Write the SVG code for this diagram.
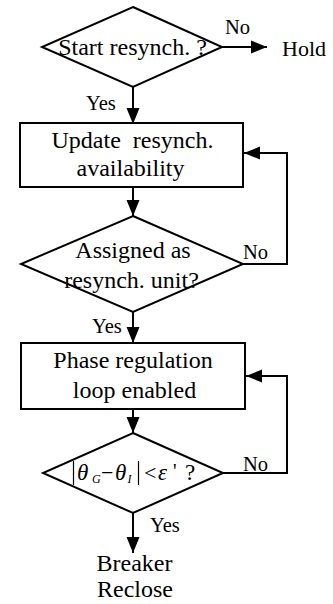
<svg xmlns="http://www.w3.org/2000/svg" width="333" height="604" viewBox="0 0 333 604">
<style>
.s{fill:none;stroke:#000;stroke-width:2}
.l{fill:none;stroke:#000;stroke-width:2}
text{font-family:"Liberation Serif","Times New Roman",serif;font-size:24px;fill:#000}
.lb{font-size:20.5px}
.m{text-anchor:middle}
.i{font-style:italic}
.sub{font-style:italic;font-size:12px}
</style>
<defs>
<marker id="a" markerUnits="userSpaceOnUse" markerWidth="18" markerHeight="18" refX="16" refY="8" orient="auto">
<path d="M0,1.5 L16,8 L0,14.5 Z" fill="#000"/>
</marker>
</defs>
<g id="connectors">
<path class="l" d="M222,47 H267" marker-end="url(#a)"/>
<path class="l" d="M133,87 V124" marker-end="url(#a)"/>
<path class="l" d="M133,187 V216" marker-end="url(#a)"/>
<path class="l" d="M243,264 H287 V153 H244" marker-end="url(#a)"/>
<path class="l" d="M133,312 V343" marker-end="url(#a)"/>
<path class="l" d="M133,409 V433" marker-end="url(#a)"/>
<path class="l" d="M223,473 H287 V376 H246" marker-end="url(#a)"/>
<path class="l" d="M133,513 V553" marker-end="url(#a)"/>
<text class="lb" x="225" y="34">No</text>
<text class="lb" x="86" y="110">Yes</text>
<text class="lb" x="243" y="259">No</text>
<text class="lb" x="92" y="333">Yes</text>
<text class="lb" x="243" y="471">No</text>
<text class="lb" x="150" y="532">Yes</text>
</g>
<g id="start">
<text class="m" x="132.5" y="55">Start resynch. ?</text>
<path class="s" d="M133,7 L222,47 L133,87 L42,47 Z"/>
</g>
<g id="hold">
<text x="282" y="56" style="font-size:22px">Hold</text>
</g>
<g id="update">
<rect class="s" x="20" y="123" width="223" height="64"/>
<text class="m" x="132.5" y="148" xml:space="preserve">Update  resynch.</text>
<text class="m" x="130.5" y="176">availability</text>
</g>
<g id="assigned">
<text class="m" x="133" y="258">Assigned as</text>
<text class="m" x="131.5" y="288">resynch. unit?</text>
<path class="s" d="M133,216 L243,264 L133,312 L21,264 Z"/>
</g>
<g id="phase">
<rect class="s" x="21" y="343" width="224" height="66"/>
<text class="m" x="133" y="368">Phase regulation</text>
<text class="m" x="134.5" y="398">loop enabled</text>
</g>
<g id="check">
<path class="s" d="M133,433 L223,473 L133,513 L43,473 Z"/>
<line x1="73.5" y1="461" x2="73.5" y2="485" stroke="#000" stroke-width="1.2"/>
<line x1="138.5" y1="461" x2="138.5" y2="485" stroke="#000" stroke-width="1.2"/>
<text x="77" y="480" class="i" style="font-size:23px">θ</text>
<text x="92" y="483" class="sub">G</text>
<text x="101" y="480" style="font-size:22px">−</text>
<text x="115" y="480" class="i" style="font-size:23px">θ</text>
<text x="127.5" y="483" class="sub">I</text>
<text x="144" y="480" style="font-size:22px">&lt;</text>
<text x="158" y="480" class="i" style="font-size:23px">ε</text>
<text x="173" y="478" style="font-size:20px">'</text>
<text x="185" y="480" style="font-size:23px">?</text>
</g>
<g id="reclose">
<text class="m" x="134.5" y="571">Breaker</text>
<text class="m" x="135" y="597">Reclose</text>
</g>
</svg>
